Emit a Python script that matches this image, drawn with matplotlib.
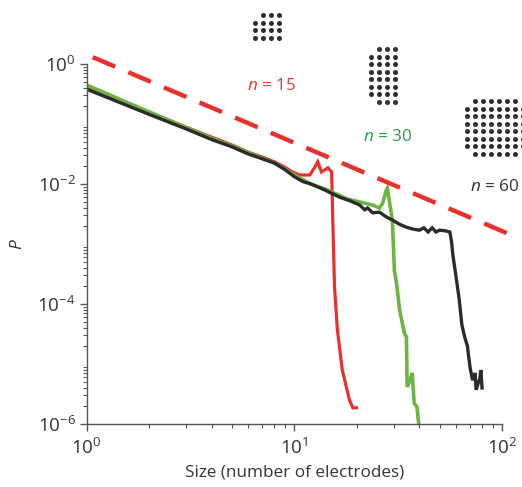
import numpy as np
import matplotlib
matplotlib.use("Agg")
import matplotlib.pyplot as plt

plt.rcParams['font.family'] = ['Open Sans', 'DejaVu Sans']
plt.rcParams['mathtext.fontset'] = 'custom'
plt.rcParams['mathtext.rm'] = 'Open Sans'
plt.rcParams['mathtext.it'] = 'Open Sans:italic'

# size (number of electrodes) and log10(P)
x_15 = [1, 2, 3, 4, 5, 6, 7, 8, 9, 9.8, 10.6, 11.85, 12.5, 12.95, 13.5, 14.5,
        15.1, 15.3, 15.6, 16.1, 17.0, 18.4, 19.1, 19.9]
e_15 = [-0.38, -0.8, -1.05, -1.22, -1.35, -1.47, -1.55, -1.63, -1.72, -1.8,
        -1.85, -1.85, -1.73, -1.63, -1.8, -1.73, -1.8, -2.6, -3.72, -4.43,
        -5.1, -5.6, -5.73, -5.73]

x_30 = [1, 2, 3, 4, 5, 6, 7, 8, 9, 10, 11, 12, 14, 16, 18, 20.6, 23.8, 25.7,
        26.6, 27.7, 28.0, 29.3, 29.6, 30.3, 31.0, 32.1, 33.8, 34.6, 34.9,
        35.8, 36.5, 36.9, 37.7, 38.9, 39.8]
e_30 = [-0.35, -0.8, -1.06, -1.24, -1.37, -1.48, -1.57, -1.65, -1.75, -1.85,
        -1.93, -2.0, -2.08, -2.17, -2.25, -2.3, -2.35, -2.4, -2.32, -2.1,
        -2.07, -2.5, -2.6, -3.45, -3.65, -4.1, -4.48, -4.55, -5.38, -5.3,
        -5.2, -5.15, -5.65, -5.72, -6.05]

x_60 = [1, 2, 3, 4, 5, 6, 7, 8, 9, 10, 11, 12, 14, 16.5, 18.5, 20.6, 21.8,
        22.5, 23.8, 25.7, 27.7, 29.6, 32, 34.6, 37, 40, 42, 44, 46, 48, 50,
        53, 56, 57, 58, 60, 62, 64, 66, 68, 70, 72, 74, 75, 77, 78, 79, 80]
e_60 = [-0.42, -0.84, -1.08, -1.26, -1.38, -1.5, -1.58, -1.65, -1.76, -1.88,
        -1.96, -2.0, -2.1, -2.22, -2.28, -2.35, -2.43, -2.4, -2.48, -2.47,
        -2.55, -2.6, -2.67, -2.72, -2.75, -2.77, -2.73, -2.8, -2.73, -2.8,
        -2.77, -2.78, -2.8, -2.95, -3.2, -3.55, -3.9, -4.35, -4.55, -4.7,
        -5.05, -5.27, -5.15, -5.43, -5.3, -5.25, -5.1, -5.4]

# reference power-law line (end points)
x_ref = [1.07, 117]
y_ref = [1.3, 1.3e-3]

red = '#e8302c'
green = '#6cb543'
black = '#2b2b2b'

fig = plt.figure(figsize=(5.22, 4.87), dpi=100)
ax = fig.add_axes([0.166, 0.1294, 0.796, 0.7392])

ax.plot(x_15, 10 ** np.array(e_15), color=red, lw=2.3, solid_joinstyle='miter')
ax.plot(x_30, 10 ** np.array(e_30), color=green, lw=2.6, solid_joinstyle='miter')
ax.plot(x_60, 10 ** np.array(e_60), color=black, lw=2.4, solid_joinstyle='miter')
ax.plot(x_ref, y_ref, color=red, lw=3.2, dashes=(5.5, 3.2), clip_on=False)

ax.set_xscale('log')
ax.set_yscale('log')
ax.set_xlim(1, 100)
ax.set_ylim(1e-6, 1)
ax.set_yticks([1e-6, 1e-4, 1e-2, 1])
ax.set_xticks([1, 10, 100])

for s in ['top', 'right']:
    ax.spines[s].set_visible(False)
for s in ['left', 'bottom']:
    ax.spines[s].set_color('#555555')
    ax.spines[s].set_linewidth(1.0)
ax.tick_params(which='major', length=5, width=1, color='#555555',
               labelsize=13.5, labelcolor='#333333')
ax.tick_params(which='minor', length=3, width=0.8, color='#555555')
ax.tick_params(axis='x', pad=5)
ax.tick_params(axis='y', pad=3)

ax.set_xlabel('Size (number of electrodes)', fontsize=12.3, color='#333333', labelpad=5)
ax.set_ylabel('$P$', fontsize=12.5, color='#333333', labelpad=8)

fig.text(0.521, 0.823, '$n$ = 15', color='#e8353a', fontsize=12.3, ha='center', va='center')
fig.text(0.743, 0.719, '$n$ = 30', color='#2a9d4c', fontsize=12.3, ha='center', va='center')
fig.text(0.90, 0.616, '$n$ = 60', color='#333333', fontsize=12.3, ha='left', va='center')

# electrode layouts drawn on a pixel-space overlay
grids = [
    # rows, cols, missing (row, col), left, top
    (4, 4, [(0, 0)], 255, 15),
    (8, 4, [(0, 0), (7, 0)], 371, 49),
    (8, 8, [(0, 0), (0, 7), (7, 0), (7, 7)], 467, 101),
]
ov = fig.add_axes([0, 0, 1, 1])
ov.set_xlim(0, 522)
ov.set_ylim(487, 0)
ov.axis('off')
for rows, cols, missing, left, top in grids:
    px, py = [], []
    for r in range(rows):
        for c in range(cols):
            if (r, c) in missing:
                continue
            px.append(left + c * 8.0)
            py.append(top + r * 7.5)
    ov.scatter(px, py, s=13, color='#2e2e2e', linewidths=0)

fig.savefig('out.png', dpi=100)
